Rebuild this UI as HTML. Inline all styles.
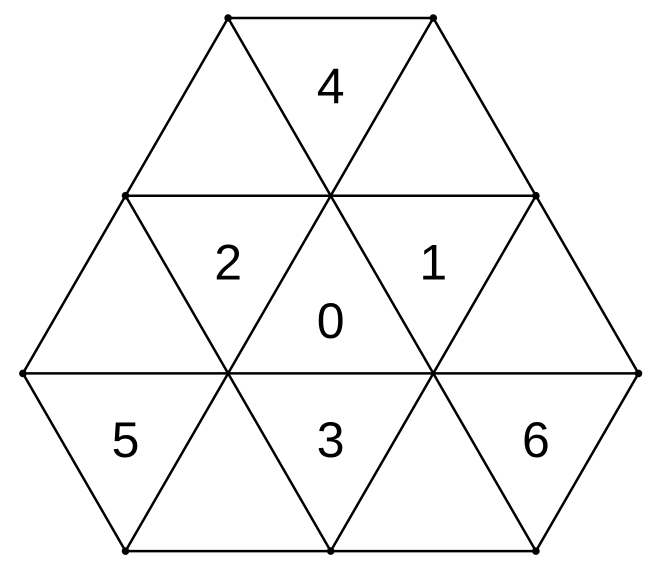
<!DOCTYPE html>
<html>
<head>
<meta charset="utf-8">
<style>
html,body{margin:0;padding:0;background:#fff;}
svg{display:block;}
text{font-family:"Liberation Sans",Arial,sans-serif;font-size:50px;fill:#000;}
</style>
</head>
<body>
<svg id="chart" width="651" height="571" viewBox="0 0 651 571">
  <g id="edges"></g>
  <g id="dots"></g>
  <g id="labels"></g>
</svg>
<script>
// vertex grid positions in lattice units (col, row)
const vertexNames = ["A","B","C","D","E","F","G","H","I","J","K","L"];
const vertexCols = [1,3, 0,2,4, -1,1,3,5, 0,2,4];
const vertexRows = [0,0, 1,1,1, 2,2,2,2, 3,3,3];
const edgeFrom = ["A","A","A","B","B","C","C","C","D","D","E","E","F","F","G","G","H","H","I","J"];
const edgeTo   = ["B","C","D","D","E","E","F","G","G","H","H","I","I","J","J","K","K","L","L","L"];
const dotVertices = ["A","B","C","E","F","I","J","K","L"];
const labelText = ["4","2","1","0","5","3","6"];
const labelCols = [2,1,3,2,0,2,4];
const labelRows = [0.38,1.37,1.37,1.7,2.37,2.37,2.37];

const x0 = 125.5, dx = 102.6, y0 = 18, dy = 177.7;
function xs(c){return x0 + c*dx;}
function ys(r){return y0 + r*dy;}
const NS = "http://www.w3.org/2000/svg";
function pos(n){const i = vertexNames.indexOf(n);return [xs(vertexCols[i]), ys(vertexRows[i])];}

const eg = document.getElementById("edges");
for (let i=0;i<edgeFrom.length;i++){
  const a = pos(edgeFrom[i]), b = pos(edgeTo[i]);
  const l = document.createElementNS(NS,"line");
  l.setAttribute("x1",a[0]);l.setAttribute("y1",a[1]);
  l.setAttribute("x2",b[0]);l.setAttribute("y2",b[1]);
  l.setAttribute("stroke","#000");l.setAttribute("stroke-width","2.5");
  
  
  eg.appendChild(l);
}
const dg = document.getElementById("dots");
for (const n of dotVertices){
  const p = pos(n);
  const c = document.createElementNS(NS,"circle");
  c.setAttribute("cx",p[0]);c.setAttribute("cy",p[1]);c.setAttribute("r","3.8");
  c.setAttribute("fill","#000");
  
  
  dg.appendChild(c);
}
const lg = document.getElementById("labels");
for (let i=0;i<labelText.length;i++){
  const t = document.createElementNS(NS,"text");
  t.setAttribute("x",xs(labelCols[i]));
  t.setAttribute("y",ys(labelRows[i])+18);
  t.setAttribute("text-anchor","middle");
  t.textContent = labelText[i];
  
  
  lg.appendChild(t);
}
</script>
</body>
</html>
